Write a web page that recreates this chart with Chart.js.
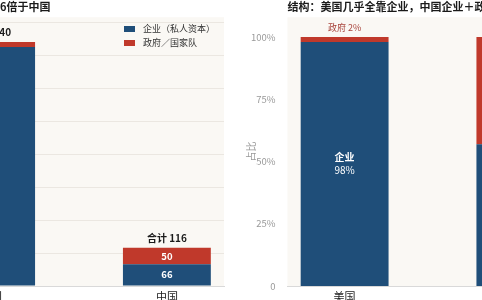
<!DOCTYPE html>
<html>
<head>
<meta charset="utf-8">
<script src="https://cdn.jsdelivr.net/npm/chart.js@4"></script>
<style>
  html, body { margin: 0; padding: 0; background: #fff; }
  #wrap { position: relative; width: 482px; height: 300px; overflow: hidden; }
  #left { position: absolute; left: -120px; top: 0; }
  #right { position: absolute; left: 241px; top: 0; }
  #legend { position: absolute; left: 124px; top: 21.5px; font: 9px 'Noto Sans CJK SC'; color: #333; }
  .item { display: flex; align-items: center; height: 14px; }
  .sw { width: 11px; height: 6px; margin-right: 8px; }
</style>
</head>
<body>
<div id="wrap">
  <canvas id="left" width="350" height="300"></canvas>
  <canvas id="right" width="360" height="300"></canvas>
  <div id="legend"></div>
</div>
<script>
// data
const categories = ['美国', '中国'];
const enterprise = [725, 66];      // 企业（私人资本）
const government = [15, 50];       // 政府／国家队
const enterpriseShare = [98, 57];  // %
const governmentShare = [2, 43];   // %
const shareTicks = [0, 25, 50, 75, 100];

const seriesNames = ['企业（私人资本）', '政府／国家队'];
const seriesColors = ['#1f4e79', '#c0392b'];
const FONT = "'Noto Sans CJK SC'";

Chart.defaults.font.family = FONT;
Chart.defaults.animation = false;

// legend built from the series
document.getElementById('legend').innerHTML = seriesNames.map((n, i) =>
  `<div class="item"><span class="sw" style="background:${seriesColors[i]}"></span>${n}</div>`).join('');

const plotBg = {
  id: 'plotBg',
  beforeDraw(chart) {
    const { ctx, chartArea: a } = chart;
    ctx.save();
    ctx.fillStyle = '#faf8f4';
    ctx.fillRect(a.left, a.top, a.right - a.left, a.bottom - a.top);
    ctx.restore();
  }
};

// value labels + totals on the left chart
const amountLabels = {
  id: 'amountLabels',
  afterDatasetsDraw(chart) {
    const ctx = chart.ctx;
    const ent = chart.getDatasetMeta(0).data, gov = chart.getDatasetMeta(1).data;
    ctx.save();
    ctx.textAlign = 'center';
    ctx.textBaseline = 'middle';
    categories.forEach((c, i) => {
      [[ent[i], enterprise[i]], [gov[i], government[i]]].forEach(([bar, v]) => {
        if (bar.base - bar.y > 12) {
          ctx.fillStyle = '#fff';
          ctx.font = `bold 9.5px ${FONT}`;
          ctx.fillText(v, bar.x, (bar.y + bar.base) / 2);
        }
      });
      ctx.fillStyle = '#1a1a1a';
      ctx.font = `bold 10px ${FONT}`;
      ctx.fillText('合计 ' + (enterprise[i] + government[i]), gov[i].x, gov[i].y - 10);
    });
    ctx.restore();
  }
};

// share labels on the right chart
const shareLabels = {
  id: 'shareLabels',
  afterDatasetsDraw(chart) {
    const ctx = chart.ctx;
    const ent = chart.getDatasetMeta(0).data, gov = chart.getDatasetMeta(1).data;
    ctx.save();
    ctx.textAlign = 'center';
    ctx.textBaseline = 'middle';
    categories.forEach((c, i) => {
      const e = ent[i], g = gov[i];
      const cy = (e.y + e.base) / 2;
      ctx.fillStyle = '#fff';
      ctx.font = `bold 10px ${FONT}`;
      ctx.fillText('企业', e.x, cy - 6.5);
      ctx.font = `10px ${FONT}`;
      ctx.fillText(enterpriseShare[i] + '%', e.x, cy + 6.5);
      if (g.base - g.y > 30) {
        const gy = (g.y + g.base) / 2;
        ctx.font = `bold 10px ${FONT}`;
        ctx.fillText('政府', g.x, gy - 6.5);
        ctx.font = `10px ${FONT}`;
        ctx.fillText(governmentShare[i] + '%', g.x, gy + 6.5);
      } else {
        ctx.fillStyle = '#a8433b';
        ctx.font = `9px ${FONT}`;
        ctx.fillText('政府 ' + governmentShare[i] + '%', g.x, g.y - 10);
      }
    });
    ctx.restore();
  }
};

const xAxis = () => ({
  type: 'linear',
  min: -0.325,
  max: 1.325,
  offset: false,
  stacked: true,
  grid: { display: false, offset: false },
  border: { display: true, color: '#d9d9d9' },
  afterBuildTicks: s => { s.ticks = categories.map((c, i) => ({ value: i })); },
  afterFit: s => { s.height = 14; },
  ticks: { color: '#222', font: { size: 11 }, padding: -4, callback: v => categories[v] }
});

const titleOpts = text => ({
  display: true, text, align: 'start', fullSize: false,
  color: '#1a1a1a', font: { size: 11, weight: 'bold' },
  padding: { top: 0, bottom: 4 }
});

const pts = arr => arr.map((v, i) => ({ x: i, y: v }));

new Chart(document.getElementById('left'), {
  type: 'bar',
  data: {
    datasets: [
      { label: seriesNames[0], data: pts(enterprise), backgroundColor: seriesColors[0] },
      { label: seriesNames[1], data: pts(government), backgroundColor: seriesColors[1] }
    ]
  },
  options: {
    responsive: false,
    layout: { padding: { right: 6 } },
    datasets: { bar: { categoryPercentage: 1, barPercentage: 0.5 } },
    plugins: { legend: { display: false }, tooltip: { enabled: false }, title: titleOpts('规模：美国约6倍于中国') },
    scales: {
      x: xAxis(),
      y: {
        stacked: true, min: 0, max: 815,
        grid: { color: '#ebe7e1', drawTicks: false },
        border: { display: false },
        afterFit: s => { s.width = 54; },
        ticks: { stepSize: 100, includeBounds: false, color: '#999', font: { size: 9.5 }, padding: 4 }
      }
    }
  },
  plugins: [plotBg, amountLabels]
});

new Chart(document.getElementById('right'), {
  type: 'bar',
  data: {
    datasets: [
      { label: '企业', data: pts(enterpriseShare), backgroundColor: seriesColors[0] },
      { label: '政府', data: pts(governmentShare), backgroundColor: seriesColors[1] }
    ]
  },
  options: {
    responsive: false,
    layout: { padding: { right: 23.5 } },
    datasets: { bar: { categoryPercentage: 1, barPercentage: 0.5 } },
    plugins: { legend: { display: false }, tooltip: { enabled: false }, title: titleOpts('结构：美国几乎全靠企业，中国企业＋政府双轮驱动') },
    scales: {
      x: xAxis(),
      y: {
        stacked: true, min: 0, max: 108,
        grid: { display: false },
        border: { display: false },
        afterBuildTicks: s => { s.ticks = shareTicks.map(v => ({ value: v })); },
        afterFit: s => { s.width = 46.5; },
        title: { display: true, text: '占比', color: '#999', font: { size: 10 }, padding: { top: 4, bottom: 0 } },
        ticks: { color: '#999', font: { size: 9.5 }, padding: 4, callback: v => v === 0 ? '0' : v + '%' }
      }
    }
  },
  plugins: [plotBg, shareLabels]
});
</script>
</body>
</html>
